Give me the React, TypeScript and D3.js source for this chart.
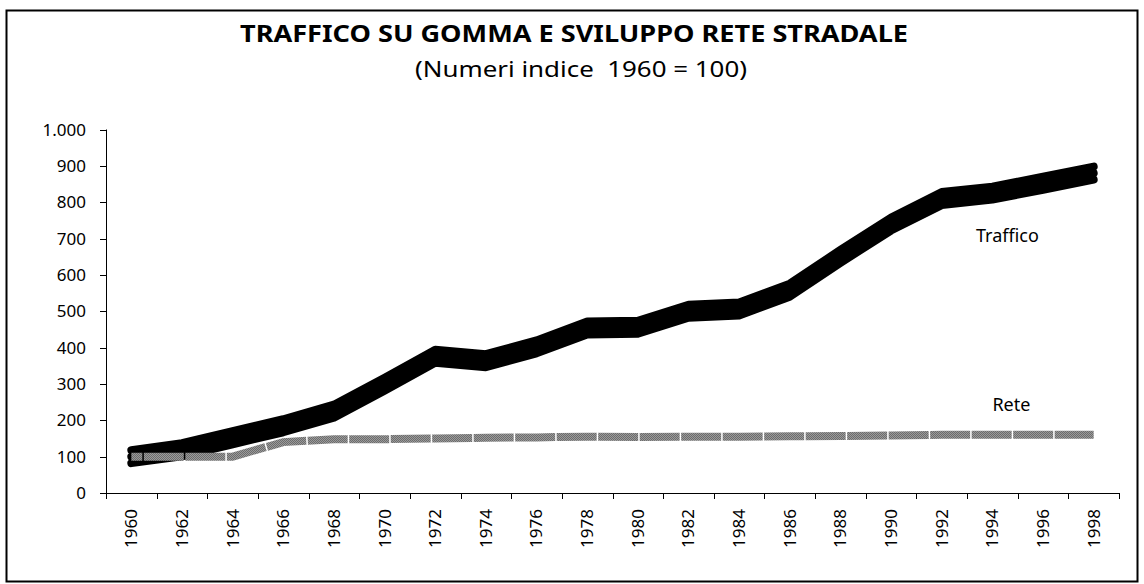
import { useEffect, useRef } from 'react';
import * as d3 from 'd3';

const years = ['1960', '1962', '1964', '1966', '1968', '1970', '1972', '1974', '1976', '1978',
  '1980', '1982', '1984', '1986', '1988', '1990', '1992', '1994', '1996', '1998'];
const traffico = [100, 119, 152, 185, 225, 299, 376, 364, 402, 454,
  456, 500, 506, 558, 651, 740, 810, 825, 852, 880];
const rete = [100, 100, 100, 140, 148, 148, 150, 152, 153, 155,
  154, 155, 155, 156, 157, 158, 160, 160, 160, 160];
const yTicks = [0, 100, 200, 300, 400, 500, 600, 700, 800, 900, 1000];

const W = 1144;
const H = 584;
const FONT = '"Noto Sans", "DejaVu Sans", sans-serif';

export default function App() {
  const svgRef = useRef<SVGSVGElement>(null);

  useEffect(() => {
    if (!svgRef.current) return;
    const svg = d3.select(svgRef.current);
    svg.selectAll('*').remove();

    const x = d3.scaleBand<string>().domain(years).range([106, 1119]).padding(0);
    const y = d3.scaleLinear().domain([0, 1000]).range([493, 129.5]);
    const cx = (d: string) => (x(d) as number) + x.bandwidth() / 2;
    const fmt = d3.formatLocale({ decimal: ',', thousands: '.', grouping: [3], currency: ['€', ''] }).format(',');

    // checker pattern for the road network line
    const defs = svg.append('defs');
    const pat = defs.append('pattern')
      .attr('id', 'checker')
      .attr('patternUnits', 'userSpaceOnUse')
      .attr('width', 2)
      .attr('height', 2);
    pat.append('rect').attr('width', 2).attr('height', 2).attr('fill', '#9a9a9a');
    pat.append('rect').attr('width', 1).attr('height', 1).attr('fill', '#6c6c6c');
    pat.append('rect').attr('x', 1).attr('y', 1).attr('width', 1).attr('height', 1).attr('fill', '#6c6c6c');

    svg.append('rect')
      .attr('x', 0).attr('y', 0).attr('width', W).attr('height', H)
      .attr('fill', '#fff');

    // frame
    svg.append('rect')
      .attr('x', 6.5).attr('y', 10.5)
      .attr('width', 1131).attr('height', 571)
      .attr('fill', 'none')
      .attr('stroke', '#000')
      .attr('stroke-width', 2);

    // titles
    svg.append('text')
      .attr('x', 574).attr('y', 42)
      .attr('text-anchor', 'middle')
      .attr('font-family', FONT)
      .attr('font-size', 23)
      .attr('font-weight', 'bold')
      .attr('textLength', 668)
      .attr('lengthAdjust', 'spacingAndGlyphs')
      .text('TRAFFICO SU GOMMA E SVILUPPO RETE STRADALE');

    svg.append('text')
      .attr('x', 581).attr('y', 77)
      .attr('text-anchor', 'middle')
      .attr('font-family', FONT)
      .attr('font-size', 21)
      .attr('textLength', 332)
      .attr('lengthAdjust', 'spacingAndGlyphs')
      .style('white-space', 'pre')
      .text('(Numeri indice  1960 = 100)');

    // y axis
    const yAxis = svg.append('g');
    yAxis.append('line')
      .attr('x1', 106.5).attr('x2', 106.5)
      .attr('y1', y(1000)).attr('y2', y(0))
      .attr('stroke', '#000');
    const yt = yAxis.selectAll('.ytick').data(yTicks).enter().append('g')
      .attr('transform', (d) => `translate(0,${Math.round(y(d)) + 0.5})`);
    yt.append('line').attr('x1', 100).attr('x2', 106.5).attr('stroke', '#000');
    yt.append('text')
      .attr('x', 86)
      .attr('dy', '0.35em')
      .attr('text-anchor', 'end')
      .attr('font-family', FONT)
      .attr('font-size', 17)
      .text((d) => fmt(d));

    // x axis
    const xAxis = svg.append('g');
    xAxis.append('line')
      .attr('x1', 106).attr('x2', 1119)
      .attr('y1', y(0) + 0.5).attr('y2', y(0) + 0.5)
      .attr('stroke', '#000');
    const bounds = [...years.map((d) => x(d) as number), 1119];
    xAxis.selectAll('.xtick').data(bounds).enter().append('line')
      .attr('x1', (d) => Math.round(d) + 0.5).attr('x2', (d) => Math.round(d) + 0.5)
      .attr('y1', y(0)).attr('y2', y(0) + 6)
      .attr('stroke', '#000');
    xAxis.selectAll('.xlab').data(years).enter().append('text')
      .attr('transform', (d) => `translate(${cx(d)},509) rotate(-90)`)
      .attr('dy', '0.35em')
      .attr('text-anchor', 'end')
      .attr('font-family', FONT)
      .attr('font-size', 17)
      .text((d) => d);

    // Traffico: heavy black band
    const trafLine = d3.line<number>()
      .x((_, i) => cx(years[i]))
      .y((d) => y(d));
    [-6.5, 0, 6.5].forEach((off) => {
      svg.append('path')
        .datum(traffico)
        .attr('transform', `translate(0,${off})`)
        .attr('d', trafLine)
        .attr('fill', 'none')
        .attr('stroke', '#000')
        .attr('stroke-width', 8)
        .attr('stroke-linecap', 'round')
        .attr('stroke-linejoin', 'round');
    });

    // Rete: grey dithered line
    svg.append('path')
      .datum(rete)
      .attr('d', d3.line<number>().x((_, i) => cx(years[i])).y((d) => y(d)))
      .attr('fill', 'none')
      .attr('stroke', 'url(#checker)')
      .attr('stroke-width', 8)
      .attr('stroke-dasharray', '40 1.5')
      .attr('stroke-dashoffset', 29);

    // series labels
    svg.append('text')
      .attr('x', cx('1994') + 15)
      .attr('y', y(690))
      .attr('text-anchor', 'middle')
      .attr('font-family', FONT)
      .attr('font-size', 18)
      .text('Traffico');

    svg.append('text')
      .attr('x', cx('1994') + 19)
      .attr('y', y(225))
      .attr('text-anchor', 'middle')
      .attr('font-family', FONT)
      .attr('font-size', 18)
      .text('Rete');
  }, []);

  return (
    <svg
      ref={svgRef}
      width={W}
      height={H}
      style={{ position: 'absolute', left: 0, top: 0, display: 'block' }}
    />
  );
}
